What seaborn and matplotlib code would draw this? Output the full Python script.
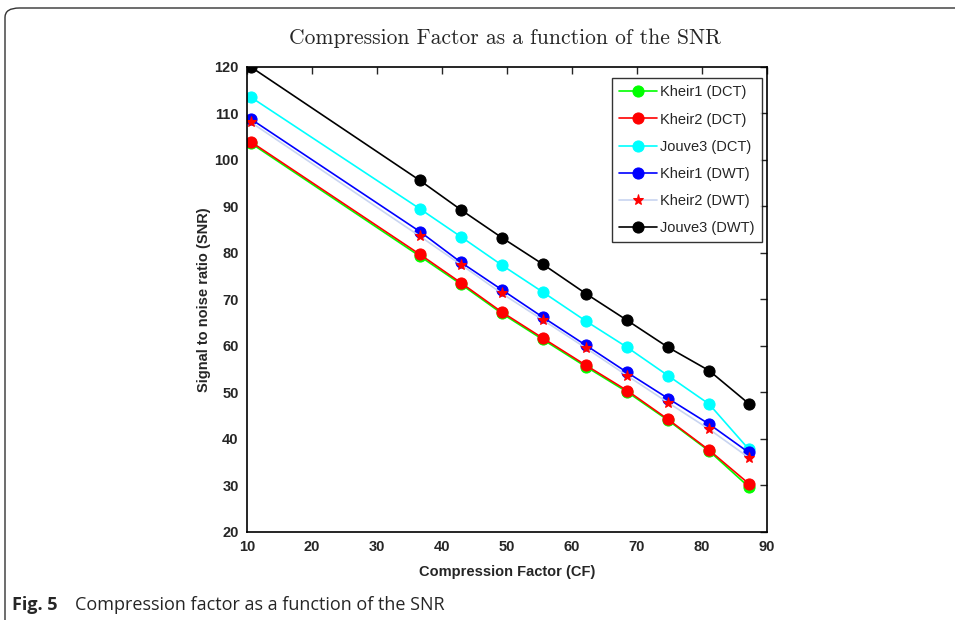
import matplotlib
matplotlib.use("Agg")
import matplotlib.pyplot as plt
import seaborn as sns
import pandas as pd
from matplotlib.patches import FancyBboxPatch

cf = [10.6, 36.6, 42.9, 49.2, 55.5, 62.2, 68.5, 74.8, 81.1, 87.2]

kheir1_dct = [103.6, 79.3, 73.3, 67.0, 61.4, 55.5, 50.1, 44.0, 37.4, 29.7]
kheir2_dct = [103.9, 79.7, 73.6, 67.3, 61.7, 55.8, 50.4, 44.2, 37.6, 30.4]
jouve3_dct = [113.5, 89.5, 83.5, 77.4, 71.6, 65.3, 59.7, 53.6, 47.5, 37.8]
kheir1_dwt = [108.8, 84.6, 78.0, 72.1, 66.2, 60.1, 54.3, 48.7, 43.2, 37.1]
kheir2_dwt = [108.1, 83.6, 77.5, 71.3, 65.6, 59.5, 53.6, 47.8, 42.1, 36.0]
jouve3_dwt = [120.0, 95.6, 89.3, 83.3, 77.6, 71.2, 65.5, 59.7, 54.7, 47.6]

series = [
    ("Kheir1 (DCT)", kheir1_dct, "#00ff00", "#00ff00", "o"),
    ("Kheir2 (DCT)", kheir2_dct, "#ff0000", "#ff0000", "o"),
    ("Jouve3 (DCT)", jouve3_dct, "#00ffff", "#00ffff", "o"),
    ("Kheir1 (DWT)", kheir1_dwt, "#0000ff", "#0000ff", "o"),
    ("Kheir2 (DWT)", kheir2_dwt, "#c8d4f0", "#ff0000", "*"),
    ("Jouve3 (DWT)", jouve3_dwt, "#000000", "#000000", "o"),
]

sns.set_style("white")
plt.rcParams["font.family"] = ["Liberation Sans", "DejaVu Sans"]

fig = plt.figure(figsize=(9.55, 6.2), dpi=100)
ax = fig.add_axes([0.2586, 0.142, 0.8031 - 0.2586, 0.892 - 0.142])

for name, vals, lc, mc, mk in series:
    df = pd.DataFrame({"cf": cf, "snr": vals})
    sns.lineplot(data=df, x="cf", y="snr", ax=ax, color=lc, marker=mk,
                 markersize=8 if mk == "o" else 8, markerfacecolor=mc,
                 markeredgecolor=mc, linewidth=1.2, label=name)

ax.set_xlim(10, 90)
ax.set_ylim(20, 120)
ax.set_xticks(range(10, 91, 10))
ax.set_yticks(range(20, 121, 10))
ax.tick_params(direction="in", length=5, width=1, top=True, right=True,
               labelsize=10.5, pad=6)
for lab in ax.get_xticklabels() + ax.get_yticklabels():
    lab.set_fontweight("bold")
for sp in ax.spines.values():
    sp.set_linewidth(1.2)
    sp.set_color("black")

ax.set_xlabel("Compression Factor (CF)", fontsize=10.5, fontweight="bold", labelpad=8)
ax.set_ylabel("Signal to noise ratio (SNR)", fontsize=10.5, fontweight="bold", labelpad=2)

leg = ax.legend(loc="upper right", bbox_to_anchor=(0.99, 0.976), fontsize=10.5,
                frameon=True, fancybox=False, edgecolor="black", borderaxespad=0,
                handlelength=2.6, labelspacing=0.9, borderpad=0.5,
                handletextpad=0.2)
leg.get_frame().set_linewidth(1.0)

fig.text(0.529, 0.938, "Compression Factor as a function of the SNR",
         ha="center", va="center", fontsize=15.5, family=["cmr10", "DejaVu Serif"])

border = FancyBboxPatch((5 / 955, -0.2), 1.2, 1.2 - 8 / 620,
                        boxstyle="round,pad=0,rounding_size=0.015",
                        transform=fig.transFigure, fill=False,
                        edgecolor="#333333", linewidth=1.0)
fig.patches.append(border)

fig.text(12 / 955, 1 - 605 / 620, "Fig. 5", ha="left", va="center",
         fontsize=13, fontweight="bold", family=["Open Sans", "DejaVu Sans"])
fig.text(75 / 955, 1 - 605 / 620, "Compression factor as a function of the SNR",
         ha="left", va="center", fontsize=13, family=["Open Sans", "DejaVu Sans"])

fig.savefig("out.png", dpi=100)
